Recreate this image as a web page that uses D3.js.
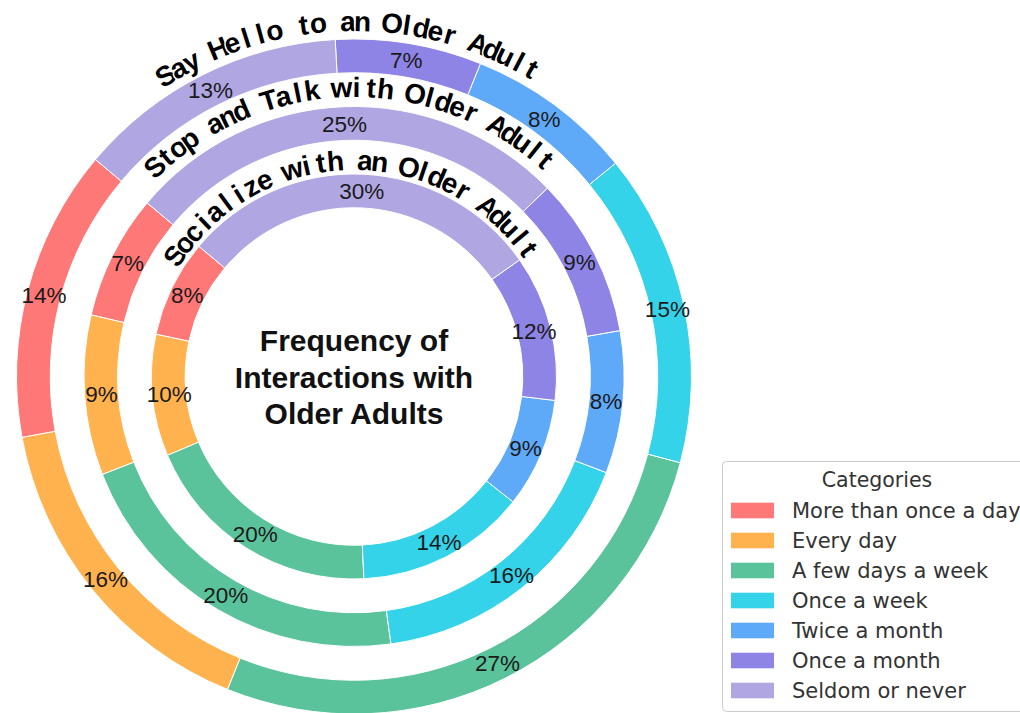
<!DOCTYPE html>
<html>
<head>
<meta charset="utf-8">
<script src="https://cdn.jsdelivr.net/npm/d3@7"></script>
<style>
  html, body { margin: 0; padding: 0; background: #ffffff; }
  svg { display: block; }
</style>
</head>
<body>
<svg id="chart" width="1020" height="713"></svg>
<script>
// Response categories, in drawing order (counter-clockwise)
const categories = [
  "More than once a day",
  "Every day",
  "A few days a week",
  "Once a week",
  "Twice a month",
  "Once a month",
  "Seldom or never"
];

// Ring titles, outermost first
const ringNames = [
  "Say Hello to an Older Adult",
  "Stop and Talk with Older Adult",
  "Socialize with an Older Adult"
];

// Percent of respondents per category for each ring
const sayHelloValues   = [14, 16, 27, 15, 8, 7, 13];
const stopTalkValues   = [7, 9, 20, 16, 8, 9, 25];
const socializeValues  = [8, 10, 20, 14, 9, 12, 30];

const centerTitleLines = ["Frequency of", "Interactions with", "Older Adults"];

const palette = ["#FF7878", "#FFB24D", "#5BC39B", "#34D3E9", "#5EAAF9", "#8E84E5", "#B0A6E2"];

// ---- layout ----
const svg = d3.select("#chart");
const cx = 354, cy = 376.5;
const R = 337.5;
const ringWidth = 0.1 * R;
const ringRadii = [1.0 * R, 0.8 * R, 0.6 * R];
const ringValues = [sayHelloValues, stopTalkValues, socializeValues];

const color = d3.scaleOrdinal().domain(categories).range(palette);

const deg = Math.PI / 180;
// start at 140° (measured counter-clockwise from 3 o'clock) and sweep counter-clockwise
const pie = d3.pie()
  .sort(null)
  .value(d => d.value)
  .startAngle((90 - 140) * deg)
  .endAngle((90 - 140 - 360) * deg);

const g = svg.append("g").attr("transform", `translate(${cx},${cy})`);

ringValues.forEach((vals, ri) => {
  const outer = ringRadii[ri];
  const inner = outer - ringWidth;
  const arc = d3.arc().innerRadius(inner).outerRadius(outer);
  const data = pie(vals.map((v, i) => ({ category: categories[i], value: v })));

  const ring = g.append("g").attr("class", "ring");
  ring.selectAll("path")
    .data(data)
    .join("path")
    .attr("d", arc)
    .attr("fill", d => color(d.data.category))
    .attr("stroke", "#ffffff")
    .attr("stroke-width", 1);

  ring.selectAll("text")
    .data(data)
    .join("text")
    .attr("transform", d => `translate(${arc.centroid(d)})`)
    .attr("text-anchor", "middle")
    .attr("dy", "0.36em")
    .attr("font-family", "'Liberation Sans', Arial, sans-serif")
    .attr("font-size", 22.5)
    .attr("fill", "#1a1a1a")
    .text(d => d.data.value + "%");
});

// ---- curved ring titles: one glyph per fixed arc step along a circle ----
const titleRadii = [355, 289, 216];
const titleCenterDeg = 91;
const charStep = 14.8; // px along the arc between glyph centres

ringNames.forEach((name, ri) => {
  const r = titleRadii[ri];
  const stepDeg = (charStep / r) / deg;
  const chars = Array.from(name);
  const n = chars.length;
  const tg = g.append("g").attr("class", "ring-title");
  tg.selectAll("text")
    .data(chars)
    .join("text")
    .attr("transform", (c, i) => {
      const a = titleCenterDeg + (n - 1) / 2 * stepDeg - i * stepDeg;
      const x = r * Math.cos(a * deg);
      const y = -r * Math.sin(a * deg);
      return `translate(${x},${y}) rotate(${90 - a})`;
    })
    .attr("text-anchor", "middle")
    .attr("dominant-baseline", "central")
    .attr("font-family", "'Liberation Sans', Arial, sans-serif")
    .attr("font-weight", "bold")
    .attr("font-size", 28)
    .attr("fill", "#000000")
    .attr("stroke", "#ffffff")
    .attr("stroke-width", 3)
    .attr("paint-order", "stroke")
    .text(c => c);
});

// ---- centre title ----
const lineGap = 36.5;
g.append("g").selectAll("text")
  .data(centerTitleLines)
  .join("text")
  .attr("x", 0)
  .attr("y", (d, i) => (i - 1) * lineGap + 11)
  .attr("text-anchor", "middle")
  .attr("font-family", "'Liberation Sans', Arial, sans-serif")
  .attr("font-weight", "bold")
  .attr("font-size", 30)
  .attr("fill", "#111111")
  .text(d => d);

// ---- legend ----
const legend = svg.append("g").attr("transform", "translate(722.5,461.5)");
legend.append("rect")
  .attr("width", 330)
  .attr("height", 250)
  .attr("rx", 4)
  .attr("fill", "#ffffff")
  .attr("fill-opacity", 0.8)
  .attr("stroke", "#cccccc")
  .attr("stroke-width", 1);

legend.append("text")
  .attr("x", 154.5)
  .attr("y", 25.5)
  .attr("text-anchor", "middle")
  .attr("font-family", "'DejaVu Sans', sans-serif")
  .attr("font-size", 20.5)
  .attr("fill", "#333333")
  .text("Categories");

const rowY = d3.scaleLinear().domain([0, 1]).range([49, 79]);
const rows = legend.selectAll("g.row")
  .data(categories)
  .join("g")
  .attr("class", "row")
  .attr("transform", (d, i) => `translate(0,${rowY(i)})`);

rows.append("rect")
  .attr("x", 8.5)
  .attr("y", -7.8)
  .attr("width", 43)
  .attr("height", 15.6)
  .attr("fill", d => color(d));

rows.append("text")
  .attr("x", 69.5)
  .attr("dy", "0.36em")
  .attr("font-family", "'DejaVu Sans', sans-serif")
  .attr("font-size", 21)
  .attr("fill", "#333333")
  .text(d => d);
</script>
</body>
</html>
